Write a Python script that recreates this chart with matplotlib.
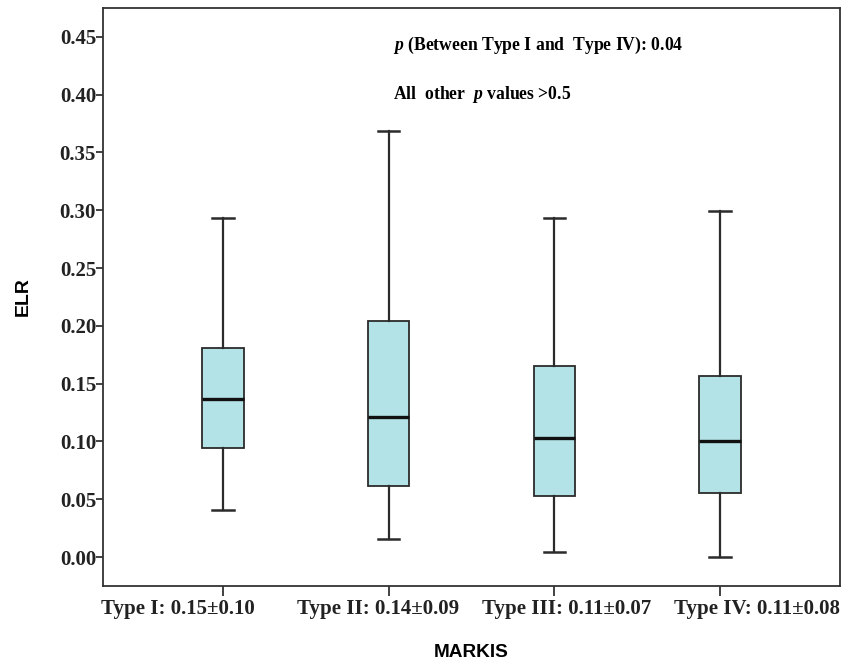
import matplotlib.pyplot as plt
import matplotlib as mpl
from matplotlib.transforms import ScaledTranslation

mpl.rcParams['mathtext.fontset'] = 'custom'
mpl.rcParams['mathtext.it'] = 'Liberation Serif:italic:bold'
mpl.rcParams['mathtext.rm'] = 'Liberation Serif:bold'

# data (ELR per MARKIS type)
labels = ['Type I: 0.15±0.10', 'Type II: 0.14±0.09',
          'Type III: 0.11±0.07', 'Type IV: 0.11±0.08']
whislo = [0.041, 0.016, 0.004, 0.000]
q1 = [0.094, 0.061, 0.053, 0.055]
med = [0.137, 0.121, 0.103, 0.100]
q3 = [0.181, 0.204, 0.165, 0.157]
whishi = [0.293, 0.369, 0.293, 0.299]

stats = []
for i in range(len(labels)):
    stats.append({'whislo': whislo[i], 'q1': q1[i], 'med': med[i],
                  'q3': q3[i], 'whishi': whishi[i], 'fliers': [], 'label': labels[i]})

fig = plt.figure(figsize=(8.49, 6.66), dpi=100)
ax = fig.add_axes([0.1213, 0.1201, 0.8681, 0.8679])

ax.bxp(stats, positions=[1, 2, 3, 4], widths=0.25, patch_artist=True,
       showfliers=False,
       boxprops=dict(facecolor='#b3e3e6', edgecolor='#2b2b2b', linewidth=1.3),
       whiskerprops=dict(color='#2b2b2b', linewidth=1.6),
       capprops=dict(color='#2b2b2b', linewidth=1.8),
       medianprops=dict(color='#111111', linewidth=2.4),
       capwidths=0.13)

ax.set_xlim(0.276, 4.724)
ax.set_ylim(-0.0251, 0.475)
ax.set_yticks([0.0, 0.05, 0.10, 0.15, 0.20, 0.25, 0.30, 0.35, 0.40, 0.45])
ax.set_yticklabels(['%.2f' % v for v in ax.get_yticks()])

for sp in ax.spines.values():
    sp.set_linewidth(1.3)
    sp.set_color('#333333')

ax.tick_params(axis='y', direction='out', length=5, width=1.3, color='#333333', pad=0)
ax.tick_params(axis='x', direction='out', length=7, width=1.3, color='#333333', pad=2)
for t in ax.get_yticklabels() + ax.get_xticklabels():
    t.set_fontfamily('Liberation Serif')
    t.set_fontweight('bold')
    t.set_fontsize(15)
    t.set_color('#222222')

# x labels in the original are nudged off their ticks
shifts = [-45, -11, 12, 37]
for t, dx in zip(ax.get_xticklabels(), shifts):
    t.set_transform(t.get_transform() + ScaledTranslation(dx / 100, 0, fig.dpi_scale_trans))

ax.set_ylabel('ELR', fontfamily='Liberation Sans', fontweight='bold', fontsize=14, labelpad=20)
ax.set_xlabel('MARKIS', fontfamily='Liberation Sans', fontweight='bold', fontsize=13.7, labelpad=18)

ax.text(0.393, 0.936, r'$p$ (Between Type I and  Type IV): 0.04', transform=ax.transAxes,
        fontfamily='Liberation Serif', fontweight='bold', fontsize=12.7, va='center')
ax.text(0.393, 0.850, r'All  other  $p$ values >0.5', transform=ax.transAxes,
        fontfamily='Liberation Serif', fontweight='bold', fontsize=12.7, va='center')

fig.savefig('out.png', dpi=100)
